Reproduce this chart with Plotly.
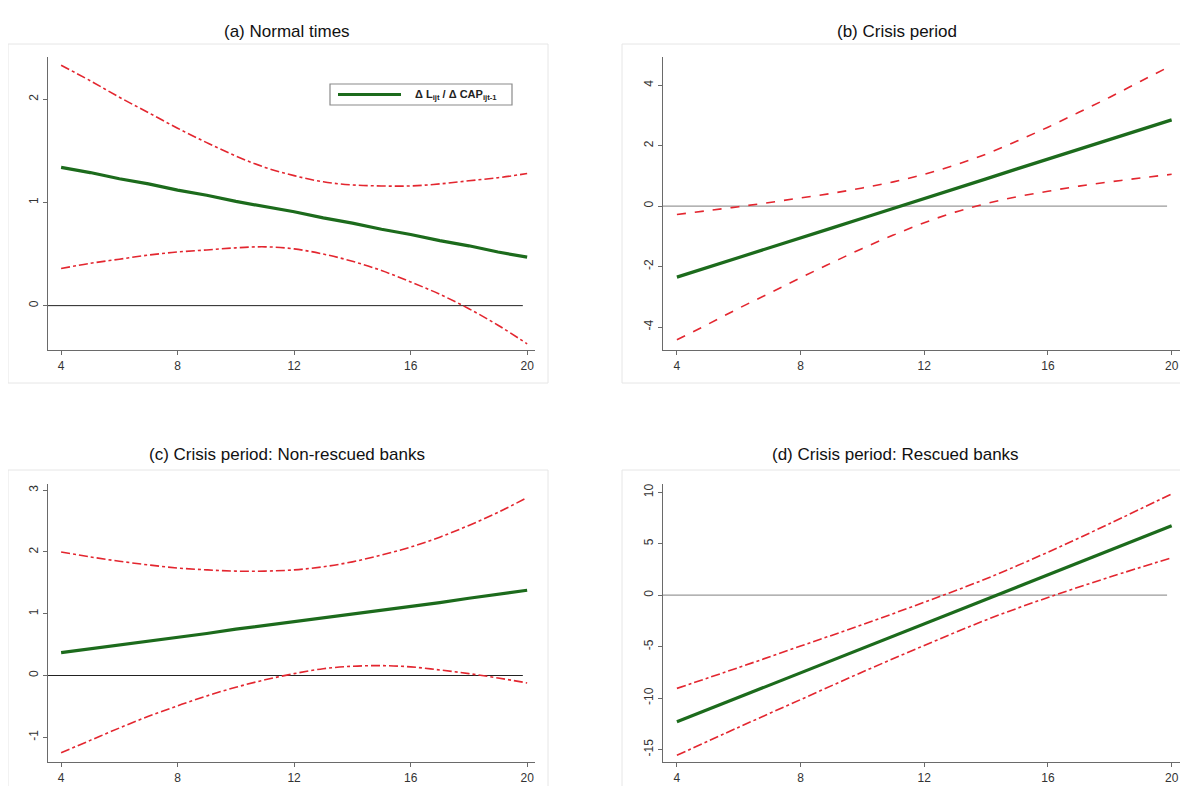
import plotly.graph_objects as go

# ---------------- data ----------------
x_all = [4, 5, 6, 7, 8, 9, 10, 11, 12, 13, 14, 15, 16, 17, 18, 19, 20]
x_tick_vals = [4, 8, 12, 16, 20]
x_tick_text = ["4", "8", "12", "16", "20"]

# (a) Normal times
a_effect = [1.34, 1.29, 1.23, 1.18, 1.12, 1.07, 1.01, 0.96, 0.91, 0.85, 0.80, 0.74, 0.69, 0.63, 0.58, 0.52, 0.47]
a_upper = [2.33, 2.18, 2.02, 1.87, 1.72, 1.58, 1.45, 1.34, 1.26, 1.20, 1.17, 1.16, 1.16, 1.18, 1.21, 1.24, 1.28]
a_lower = [0.36, 0.41, 0.45, 0.49, 0.52, 0.54, 0.56, 0.57, 0.55, 0.50, 0.43, 0.34, 0.23, 0.11, -0.03, -0.19, -0.37]
a_yticks = [0, 1, 2]

# (b) Crisis period
b_effect = [-2.35, -2.03, -1.70, -1.38, -1.05, -0.73, -0.40, -0.08, 0.25, 0.58, 0.90, 1.23, 1.55, 1.88, 2.20, 2.53, 2.85]
b_upper = [-0.28, -0.15, -0.02, 0.12, 0.27, 0.42, 0.60, 0.80, 1.05, 1.36, 1.72, 2.15, 2.61, 3.10, 3.60, 4.13, 4.65]
b_lower = [-4.42, -3.91, -3.38, -2.88, -2.37, -1.88, -1.40, -0.96, -0.55, -0.20, 0.08, 0.31, 0.49, 0.66, 0.80, 0.93, 1.05]
b_yticks = [-4, -2, 0, 2, 4]

# (c) Crisis period: Non-rescued banks
c_effect = [0.37, 0.43, 0.50, 0.56, 0.62, 0.68, 0.75, 0.81, 0.87, 0.93, 1.00, 1.06, 1.12, 1.18, 1.25, 1.31, 1.38]
c_upper = [2.00, 1.92, 1.85, 1.79, 1.74, 1.71, 1.69, 1.69, 1.71, 1.76, 1.84, 1.95, 2.08, 2.24, 2.43, 2.64, 2.88]
c_lower = [-1.25, -1.05, -0.85, -0.66, -0.49, -0.33, -0.19, -0.07, 0.03, 0.11, 0.15, 0.16, 0.14, 0.09, 0.03, -0.04, -0.12]
c_yticks = [-1, 0, 1, 2, 3]

# (d) Crisis period: Rescued banks
d_x = [4, 6, 8, 10, 12, 14, 16, 18, 20]
d_effect = [-12.30, -9.92, -7.54, -5.16, -2.78, -0.40, 1.98, 4.36, 6.74]
d_upper = [-9.05, -7.02, -4.94, -2.86, -0.68, 1.60, 4.18, 6.96, 9.84]
d_lower = [-15.55, -12.82, -10.14, -7.46, -4.88, -2.40, -0.22, 1.76, 3.64]
d_yticks = [-15, -10, -5, 0, 5, 10]

titles = ["(a) Normal times", "(b) Crisis period",
          "(c) Crisis period: Non-rescued banks", "(d) Crisis period: Rescued banks"]
legend_label = "<b>Δ L<sub>ijt</sub> / Δ CAP<sub>ijt-1</sub></b>"

# ---------------- layout geometry ----------------
OFF = 8                      # page body margin of the browser
W, H = 1188 - 2 * OFF, 794 - 2 * OFF
GREEN = "#1c6b1c"
RED = "#e3262f"
FONT = "Liberation Sans, Arial, sans-serif"


def px_x(p):
    return (p - OFF) / W


def px_y(p):
    return 1 - (p - OFF) / H


panels = [
    ("a", x_all, a_effect, a_upper, a_lower, a_yticks, [-0.43, 2.41], "dashdot", "#222222", (48, 535), (57, 350), (8, 44, 548, 383)),
    ("b", x_all, b_effect, b_upper, b_lower, b_yticks, [-4.76, 4.93], "dash", "#9a9a9a", (663, 1180), (57, 350), (622, 44, 1184, 383)),
    ("c", x_all, c_effect, c_upper, c_lower, c_yticks, [-1.4, 3.1], "dashdot", "#222222", (48, 535), (484, 762), (8, 470, 548, 794)),
    ("d", d_x, d_effect, d_upper, d_lower, d_yticks, [-16.2, 10.8], "dashdot", "#9a9a9a", (663, 1180), (484, 762), (622, 470, 1184, 794)),
]

fig = go.Figure()
shapes = []
annotations = []
layout_axes = {}

for i, (name, xs, eff, up, lo, yt, yr, dash, zc, xd, yd, box) in enumerate(panels):
    n = i + 1
    xa = "x" if n == 1 else f"x{n}"
    ya = "y" if n == 1 else f"y{n}"
    shapes.append(dict(type="rect", xref="paper", yref="paper",
                       x0=px_x(box[0]), x1=px_x(box[2]), y0=px_y(box[3]), y1=px_y(box[1]),
                       line=dict(color="#e6e6e6", width=1), fillcolor="white", layer="below"))
    shapes.append(dict(type="line", xref=f"{xa} domain", yref=ya, x0=0, x1=0.975, y0=0, y1=0,
                       line=dict(color=zc, width=1.2 if zc != "#222222" else 1), layer="below"))
    fig.add_trace(go.Scatter(x=xs, y=up, mode="lines", xaxis=xa, yaxis=ya, showlegend=False,
                             line=dict(color=RED, width=1.6, dash=dash, shape="spline")))
    fig.add_trace(go.Scatter(x=xs, y=lo, mode="lines", xaxis=xa, yaxis=ya, showlegend=False,
                             line=dict(color=RED, width=1.6, dash=dash, shape="spline")))
    fig.add_trace(go.Scatter(x=xs, y=eff, mode="lines", xaxis=xa, yaxis=ya,
                             name="Δ L / Δ CAP", showlegend=False,
                             line=dict(color=GREEN, width=3.2)))
    xkey = "xaxis" if n == 1 else f"xaxis{n}"
    ykey = "yaxis" if n == 1 else f"yaxis{n}"
    layout_axes[xkey] = dict(domain=[px_x(xd[0]), px_x(xd[1])], range=[3.55, 20.27],
                             anchor=ya, tickvals=x_tick_vals, ticktext=x_tick_text,
                             showline=True, linecolor="#6a6a6a", linewidth=1.2,
                             ticks="outside", ticklen=4, tickcolor="#6a6a6a",
                             showgrid=False, zeroline=False,
                             tickfont=dict(family=FONT, size=12, color="#333333"))
    layout_axes[ykey] = dict(domain=[px_y(yd[1]), px_y(yd[0])], range=yr,
                             anchor=xa, tickvals=yt, ticktext=[str(v) for v in yt],
                             tickangle=-90,
                             showline=True, linecolor="#6a6a6a", linewidth=1.2,
                             ticks="outside", ticklen=4, tickcolor="#6a6a6a",
                             showgrid=False, zeroline=False,
                             tickfont=dict(family=FONT, size=12, color="#333333"))

title_pos = [(287, 32), (897, 32), (287, 454), (896, 454)]
for t, (tx, ty) in zip(titles, title_pos):
    annotations.append(dict(text=t, xref="paper", yref="paper", x=px_x(tx), y=px_y(ty),
                            xanchor="center", yanchor="middle", showarrow=False,
                            font=dict(family=FONT, size=17, color="#111111")))

# legend key inside panel (a): frame, line sample and label
shapes.append(dict(type="rect", xref="paper", yref="paper",
                   x0=px_x(330), x1=px_x(512), y0=px_y(105), y1=px_y(84),
                   line=dict(color="#8a8a8a", width=1.2), fillcolor="white"))
shapes.append(dict(type="line", xref="paper", yref="paper",
                   x0=px_x(338), x1=px_x(401), y0=px_y(94.5), y1=px_y(94.5),
                   line=dict(color=GREEN, width=3.2)))
annotations.append(dict(text=legend_label, xref="paper", yref="paper",
                        x=px_x(413), y=px_y(95), xanchor="left", yanchor="middle",
                        showarrow=False,
                        font=dict(family=FONT, size=11, color="#222222")))

fig.update_layout(
    width=W, height=H,
    margin=dict(l=0, r=0, t=0, b=0),
    paper_bgcolor="white", plot_bgcolor="white",
    shapes=shapes, annotations=annotations,
    showlegend=False,
    **layout_axes,
)

fig.write_html("out.html")
